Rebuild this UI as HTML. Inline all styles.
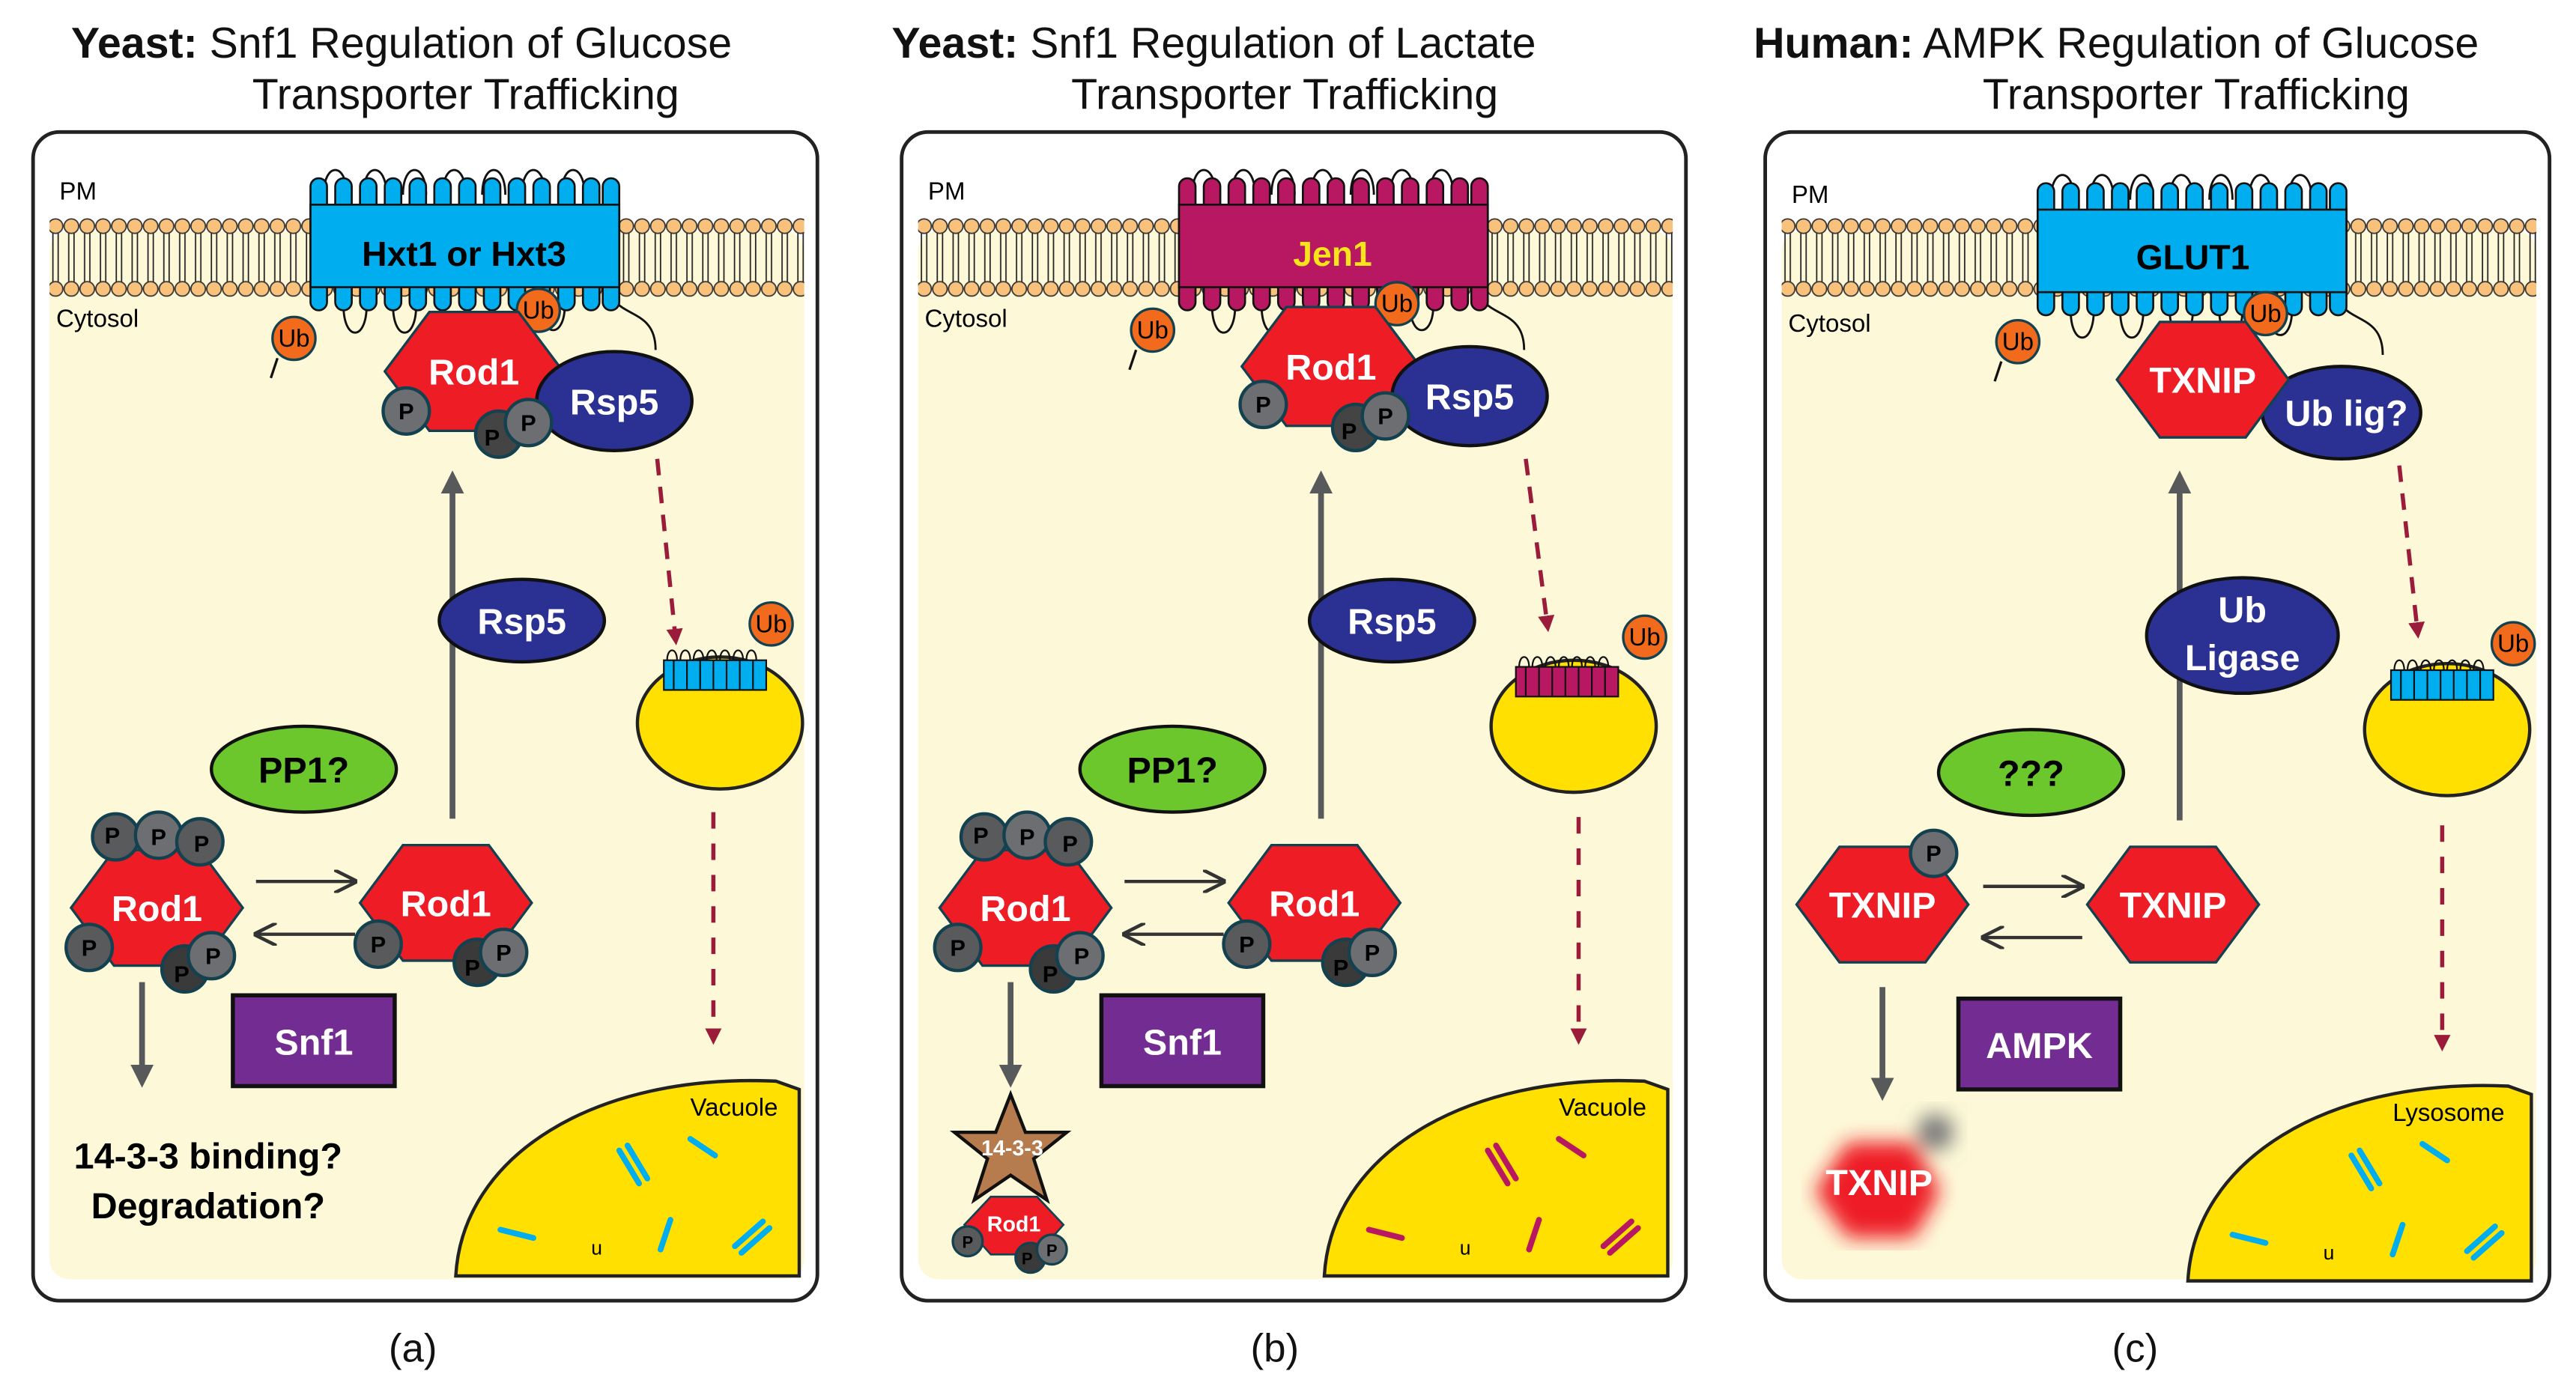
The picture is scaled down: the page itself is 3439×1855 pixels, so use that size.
<!DOCTYPE html>
<html><head><meta charset="utf-8"><style>
html,body{margin:0;padding:0;background:#fff;}
svg{display:block;}
text{font-family:"Liberation Sans",Arial,sans-serif;}
</style></head><body>
<svg width="3439" height="1855" viewBox="0 0 1560 841.5" xmlns="http://www.w3.org/2000/svg">
<defs>
<pattern id="lip" x="0" y="0" width="9.6" height="60" patternUnits="userSpaceOnUse">
 <line x1="3.2" y1="18" x2="3.2" y2="55" stroke="#222" stroke-width="0.8"/>
 <line x1="6.4" y1="18" x2="6.4" y2="55" stroke="#222" stroke-width="0.8"/>
 <circle cx="4.8" cy="17" r="4.4" fill="#f9c27c" stroke="#333" stroke-width="0.8"/>
 <circle cx="4.8" cy="55" r="4.4" fill="#f9c27c" stroke="#333" stroke-width="0.8"/>
</pattern>
<marker id="ag" viewBox="0 0 10 10" refX="5" refY="5" markerWidth="4" markerHeight="4" orient="auto"><path d="M0,0 L10,5 L0,10 z" fill="#58595b"/></marker>
<marker id="ar" viewBox="0 0 10 10" refX="5" refY="5" markerWidth="4" markerHeight="4" orient="auto"><path d="M0,0 L10,5 L0,10 z" fill="#9b1b3a"/></marker>
<marker id="ao" viewBox="0 0 10 10" refX="9" refY="5" markerWidth="7" markerHeight="7" orient="auto"><path d="M0,0 L10,5 L0,10" fill="none" stroke="#333" stroke-width="1.5"/></marker>
<filter id="blur"><feGaussianBlur stdDeviation="6"/></filter>
<g id="frame">
 <rect x="20" y="80" width="475" height="708" rx="16" fill="#fff" stroke="#222" stroke-width="2.2"/>
 <rect x="30" y="140" width="457" height="635" rx="12" fill="#fdf9d8"/>
 <rect x="30" y="120" width="457" height="60" fill="url(#lip)"/>
</g>
<g id="loops" fill="none" stroke="#111" stroke-width="1.3">
 <path d="M196,118 c0,-20 14,-20 14,0 M220,118 c0,-20 14,-20 14,0 M244,118 c0,-20 14,-20 14,0 M268,118 c0,-20 14,-20 14,0 M292,118 c0,-20 14,-20 14,0 M316,118 c0,-20 14,-20 14,0 M340,118 c0,-20 14,-20 14,0"/>
 <path d="M208,185 c0,22 14,22 14,0 M238,185 c0,22 14,22 14,0 M268,185 c0,20 14,20 14,0 M298,185 c0,20 14,20 14,0 M328,185 c0,20 14,20 14,0"/>
 <path d="M372,182 c8,10 25,8 25,30"/>
</g>
<g id="tpbumps">
 <rect x="188" y="108" width="10" height="80" rx="5"/><rect x="203" y="108" width="10" height="80" rx="5"/><rect x="218" y="108" width="10" height="80" rx="5"/><rect x="233" y="108" width="10" height="80" rx="5"/><rect x="248" y="108" width="10" height="80" rx="5"/><rect x="263" y="108" width="10" height="80" rx="5"/><rect x="278" y="108" width="10" height="80" rx="5"/><rect x="293" y="108" width="10" height="80" rx="5"/><rect x="308" y="108" width="10" height="80" rx="5"/><rect x="323" y="108" width="10" height="80" rx="5"/><rect x="338" y="108" width="10" height="80" rx="5"/><rect x="353" y="108" width="10" height="80" rx="5"/><rect x="365" y="108" width="10" height="80" rx="5"/>
 <rect x="188" y="124" width="187" height="50"/>
</g>
<g id="vacuole">
 <path d="M276,773 C280,700 360,650 470,655 L484,660 L484,773 Z" fill="#ffe000" stroke="#222" stroke-width="2"/>
</g>
<g id="rods" stroke-width="3.5" stroke-linecap="round" fill="none">
 <path d="M375,697 l12,20 M380,694 l12,20"/>
 <path d="M418,690 l15,10"/>
 <path d="M303,745 l20,5"/>
 <path d="M400,757 l6,-18"/>
 <path d="M445,755 l17,-15 M449,759 l17,-15"/>
</g>
</defs>

<!-- titles -->
<g font-size="26" fill="#111">
<text x="43" y="35"><tspan font-weight="bold">Yeast:</tspan> Snf1 Regulation of Glucose</text>
<text x="282" y="66" text-anchor="middle">Transporter Trafficking</text>
<text x="540" y="35"><tspan font-weight="bold">Yeast:</tspan> Snf1 Regulation of Lactate</text>
<text x="778" y="66" text-anchor="middle">Transporter Trafficking</text>
<text x="1062" y="35"><tspan font-weight="bold">Human:</tspan> AMPK Regulation of Glucose</text>
<text x="1330" y="66" text-anchor="middle">Transporter Trafficking</text>
<text x="250" y="825" text-anchor="middle" font-size="24">(a)</text>
<text x="772" y="825" text-anchor="middle" font-size="24">(b)</text>
<text x="1293" y="825" text-anchor="middle" font-size="24">(c)</text>
</g>

<!-- ============ PANEL A ============ -->
<g>
 <use href="#frame"/>
 <text x="36" y="121" font-size="15">PM</text>
 <text x="34" y="198" font-size="15">Cytosol</text>
 <use href="#loops"/>
 <g fill="#00aeef" stroke="#111" stroke-width="1.2"><use href="#tpbumps"/></g>
 <rect x="190" y="126" width="183" height="46" fill="#00aeef"/>
 <text x="281" y="161" font-size="21" font-weight="bold" text-anchor="middle">Hxt1 or Hxt3</text>
 <path d="M168,217 l-4,12" stroke="#111" stroke-width="1.5"/>
 <circle cx="178" cy="205" r="13" fill="#f26b1d" stroke="#14414f" stroke-width="1.5"/><text x="178" y="210" font-size="15" text-anchor="middle">Ub</text>
 <circle cx="326" cy="188" r="13" fill="#f26b1d" stroke="#14414f" stroke-width="1.5"/><text x="326" y="193" font-size="15" text-anchor="middle">Ub</text>
 <polygon points="233,225 260,189 314,189 341,225 314,261 260,261" fill="#ee1c25" stroke="#14414f" stroke-width="1.5"/>
 <text x="287" y="233" font-size="22" font-weight="bold" fill="#fff" text-anchor="middle">Rod1</text>
 <ellipse cx="372" cy="243" rx="47" ry="30" fill="#2b3192" stroke="#111" stroke-width="2"/>
 <text x="372" y="251" font-size="22" font-weight="bold" fill="#fff" text-anchor="middle">Rsp5</text>
 <g fill="#6d6e71" stroke="#14414f" stroke-width="2"><circle cx="246" cy="249" r="14"/><circle cx="302" cy="263" r="14" fill="#444"/><circle cx="320" cy="256" r="14"/></g>
 <g font-size="14" font-weight="bold" text-anchor="middle"><text x="246" y="254">P</text><text x="298" y="270">P</text><text x="320" y="261">P</text></g>
 <line x1="274" y1="496" x2="274" y2="292" stroke="#58595b" stroke-width="3.5" marker-end="url(#ag)"/>
 <ellipse cx="316" cy="376" rx="50" ry="25" fill="#2b3192" stroke="#111" stroke-width="2"/>
 <text x="316" y="384" font-size="22" font-weight="bold" fill="#fff" text-anchor="middle">Rsp5</text>
 <ellipse cx="184" cy="466" rx="56" ry="26" fill="#6cc72c" stroke="#111" stroke-width="2"/>
 <text x="184" y="474" font-size="22" font-weight="bold" text-anchor="middle">PP1?</text>
 <polygon points="43,550 69,515 121,515 147,550 121,585 69,585" fill="#ee1c25" stroke="#14414f" stroke-width="1.5"/>
 <text x="95" y="558" font-size="22" font-weight="bold" fill="#fff" text-anchor="middle">Rod1</text>
 <g fill="#595a5c" stroke="#14414f" stroke-width="2"><circle cx="70" cy="507" r="14"/><circle cx="96" cy="506" r="14" fill="#6d6e71"/><circle cx="121" cy="510" r="14"/><circle cx="54" cy="574" r="14"/><circle cx="112" cy="587" r="14" fill="#3a3a3a"/><circle cx="128" cy="579" r="14" fill="#6d6e71"/></g>
 <g font-size="14" font-weight="bold" text-anchor="middle"><text x="68" y="511">P</text><text x="96" y="512">P</text><text x="122" y="516">P</text><text x="54" y="579">P</text><text x="110" y="595">P</text><text x="129" y="584">P</text></g>
 <polygon points="218,547 244,512 296,512 322,547 296,582 244,582" fill="#ee1c25" stroke="#14414f" stroke-width="1.5"/>
 <text x="270" y="555" font-size="22" font-weight="bold" fill="#fff" text-anchor="middle">Rod1</text>
 <g fill="#595a5c" stroke="#14414f" stroke-width="2"><circle cx="229" cy="572" r="14"/><circle cx="289" cy="583" r="14" fill="#3a3a3a"/><circle cx="305" cy="577" r="14" fill="#6d6e71"/></g>
 <g font-size="14" font-weight="bold" text-anchor="middle"><text x="229" y="577">P</text><text x="286" y="591">P</text><text x="305" y="582">P</text></g>
 <line x1="155" y1="534" x2="215" y2="534" stroke="#333" stroke-width="2" marker-end="url(#ao)"/>
 <line x1="215" y1="566" x2="155" y2="566" stroke="#333" stroke-width="2" marker-end="url(#ao)"/>
 <rect x="141" y="603" width="98" height="55" fill="#732c91" stroke="#111" stroke-width="2.5"/>
 <text x="190" y="639" font-size="22" font-weight="bold" fill="#fff" text-anchor="middle">Snf1</text>
 <line x1="86" y1="595" x2="86" y2="652" stroke="#58595b" stroke-width="3.5" marker-end="url(#ag)"/>
 <text x="126" y="708" font-size="22" font-weight="bold" text-anchor="middle">14-3-3 binding?</text>
 <text x="126" y="738" font-size="22" font-weight="bold" text-anchor="middle">Degradation?</text>
 <line x1="398" y1="278" x2="409" y2="386" stroke="#9b1b3a" stroke-width="2.5" stroke-dasharray="10,7" marker-end="url(#ar)"/>
 <ellipse cx="436" cy="438" rx="50" ry="40" fill="#ffe000" stroke="#222" stroke-width="2"/>
 <path d="M404,400 c0,-8 6,-8 6,0 M412,400 c0,-8 6,-8 6,0 M420,400 c0,-8 6,-8 6,0 M428,400 c0,-8 6,-8 6,0 M436,400 c0,-8 6,-8 6,0 M444,400 c0,-8 6,-8 6,0 M452,400 c0,-8 6,-8 6,0" fill="none" stroke="#111"/>
 <rect x="402" y="400" width="62" height="18" fill="#00aeef" stroke="#111" stroke-width="1"/>
 <path d="M408,400 v18 M416,400 v18 M424,400 v18 M432,400 v18 M440,400 v18 M448,400 v18 M456,400 v18" stroke="#111"/>
 <circle cx="467" cy="378" r="13" fill="#f26b1d" stroke="#14414f" stroke-width="1.5"/><text x="467" y="383" font-size="15" text-anchor="middle">Ub</text>
 <line x1="432" y1="492" x2="432" y2="628" stroke="#9b1b3a" stroke-width="2.5" stroke-dasharray="10,9" marker-end="url(#ar)"/>
 <use href="#vacuole"/>
 <text x="418" y="676" font-size="15">Vacuole</text>
 <g stroke="#00aeef"><use href="#rods"/></g>
 <text x="358" y="760" font-size="12">u</text>
</g>

<!-- ============ PANEL B ============ -->
<g transform="translate(526,0)">
 <use href="#frame"/>
 <text x="36" y="121" font-size="15">PM</text>
 <text x="34" y="198" font-size="15">Cytosol</text>
 <use href="#loops"/>
 <g fill="#b81862" stroke="#111" stroke-width="1.2"><use href="#tpbumps"/></g>
 <rect x="190" y="126" width="183" height="46" fill="#b81862"/>
 <text x="281" y="161" font-size="21" font-weight="bold" fill="#f7e41a" text-anchor="middle">Jen1</text>
 <path d="M162,212 l-4,12" stroke="#111" stroke-width="1.5"/>
 <circle cx="172" cy="200" r="13" fill="#f26b1d" stroke="#14414f" stroke-width="1.5"/><text x="172" y="205" font-size="15" text-anchor="middle">Ub</text>
 <circle cx="320" cy="184" r="13" fill="#f26b1d" stroke="#14414f" stroke-width="1.5"/><text x="320" y="189" font-size="15" text-anchor="middle">Ub</text>
 <polygon points="226,222 253,186 307,186 334,222 307,258 253,258" fill="#ee1c25" stroke="#14414f" stroke-width="1.5"/>
 <text x="280" y="230" font-size="22" font-weight="bold" fill="#fff" text-anchor="middle">Rod1</text>
 <ellipse cx="364" cy="240" rx="47" ry="30" fill="#2b3192" stroke="#111" stroke-width="2"/>
 <text x="364" y="248" font-size="22" font-weight="bold" fill="#fff" text-anchor="middle">Rsp5</text>
 <g fill="#6d6e71" stroke="#14414f" stroke-width="2"><circle cx="239" cy="245" r="14"/><circle cx="295" cy="259" r="14" fill="#444"/><circle cx="313" cy="252" r="14"/></g>
 <g font-size="14" font-weight="bold" text-anchor="middle"><text x="239" y="250">P</text><text x="291" y="266">P</text><text x="313" y="257">P</text></g>
 <line x1="274" y1="496" x2="274" y2="292" stroke="#58595b" stroke-width="3.5" marker-end="url(#ag)"/>
 <ellipse cx="317" cy="376" rx="50" ry="25" fill="#2b3192" stroke="#111" stroke-width="2"/>
 <text x="317" y="384" font-size="22" font-weight="bold" fill="#fff" text-anchor="middle">Rsp5</text>
 <ellipse cx="184" cy="466" rx="56" ry="26" fill="#6cc72c" stroke="#111" stroke-width="2"/>
 <text x="184" y="474" font-size="22" font-weight="bold" text-anchor="middle">PP1?</text>
 <polygon points="43,550 69,515 121,515 147,550 121,585 69,585" fill="#ee1c25" stroke="#14414f" stroke-width="1.5"/>
 <text x="95" y="558" font-size="22" font-weight="bold" fill="#fff" text-anchor="middle">Rod1</text>
 <g fill="#595a5c" stroke="#14414f" stroke-width="2"><circle cx="70" cy="507" r="14"/><circle cx="96" cy="506" r="14" fill="#6d6e71"/><circle cx="121" cy="510" r="14"/><circle cx="54" cy="574" r="14"/><circle cx="112" cy="587" r="14" fill="#3a3a3a"/><circle cx="128" cy="579" r="14" fill="#6d6e71"/></g>
 <g font-size="14" font-weight="bold" text-anchor="middle"><text x="68" y="511">P</text><text x="96" y="512">P</text><text x="122" y="516">P</text><text x="54" y="579">P</text><text x="110" y="595">P</text><text x="129" y="584">P</text></g>
 <polygon points="218,547 244,512 296,512 322,547 296,582 244,582" fill="#ee1c25" stroke="#14414f" stroke-width="1.5"/>
 <text x="270" y="555" font-size="22" font-weight="bold" fill="#fff" text-anchor="middle">Rod1</text>
 <g fill="#595a5c" stroke="#14414f" stroke-width="2"><circle cx="229" cy="572" r="14"/><circle cx="289" cy="583" r="14" fill="#3a3a3a"/><circle cx="305" cy="577" r="14" fill="#6d6e71"/></g>
 <g font-size="14" font-weight="bold" text-anchor="middle"><text x="229" y="577">P</text><text x="286" y="591">P</text><text x="305" y="582">P</text></g>
 <line x1="155" y1="534" x2="215" y2="534" stroke="#333" stroke-width="2" marker-end="url(#ao)"/>
 <line x1="215" y1="566" x2="155" y2="566" stroke="#333" stroke-width="2" marker-end="url(#ao)"/>
 <rect x="141" y="603" width="98" height="55" fill="#732c91" stroke="#111" stroke-width="2.5"/>
 <text x="190" y="639" font-size="22" font-weight="bold" fill="#fff" text-anchor="middle">Snf1</text>
 <line x1="86" y1="595" x2="86" y2="652" stroke="#58595b" stroke-width="3.5" marker-end="url(#ag)"/>
 <polygon points="58,742 74,725 102,725 118,742 102,760 74,760" fill="#ee1c25" stroke="#14414f" stroke-width="1.2"/>
 <text x="88" y="746" font-size="13" font-weight="bold" fill="#fff" text-anchor="middle">Rod1</text>
 <g fill="#595a5c" stroke="#14414f" stroke-width="1.5"><circle cx="60" cy="752" r="9"/><circle cx="98" cy="762" r="9" fill="#3a3a3a"/><circle cx="111" cy="757" r="9" fill="#6d6e71"/></g>
 <g font-size="10" font-weight="bold" text-anchor="middle"><text x="60" y="756">P</text><text x="96" y="766">P</text><text x="111" y="761">P</text></g>
 <polygon points="86,663 95,686 120,686 100,702 108,727 86,712 64,727 72,702 52,686 77,686" fill="#b77c4d" stroke="#111" stroke-width="2"/>
 <text x="87" y="700" font-size="13" font-weight="bold" fill="#fff" text-anchor="middle">14-3-3</text>
 <line x1="398" y1="278" x2="411" y2="378" stroke="#9b1b3a" stroke-width="2.5" stroke-dasharray="10,7" marker-end="url(#ar)"/>
 <ellipse cx="427" cy="440" rx="50" ry="40" fill="#ffe000" stroke="#222" stroke-width="2"/>
 <path d="M394,404 c0,-8 6,-8 6,0 M402,404 c0,-8 6,-8 6,0 M410,404 c0,-8 6,-8 6,0 M418,404 c0,-8 6,-8 6,0 M426,404 c0,-8 6,-8 6,0 M434,404 c0,-8 6,-8 6,0 M442,404 c0,-8 6,-8 6,0" fill="none" stroke="#111"/>
 <rect x="392" y="404" width="62" height="18" fill="#b81862" stroke="#111" stroke-width="1"/>
 <path d="M398,404 v18 M406,404 v18 M414,404 v18 M422,404 v18 M430,404 v18 M438,404 v18 M446,404 v18" stroke="#111"/>
 <circle cx="470" cy="386" r="13" fill="#f26b1d" stroke="#14414f" stroke-width="1.5"/><text x="470" y="391" font-size="15" text-anchor="middle">Ub</text>
 <line x1="430" y1="495" x2="430" y2="628" stroke="#9b1b3a" stroke-width="2.5" stroke-dasharray="10,9" marker-end="url(#ar)"/>
 <use href="#vacuole"/>
 <text x="418" y="676" font-size="15">Vacuole</text>
 <g stroke="#b81862"><use href="#rods"/></g>
 <text x="358" y="760" font-size="12">u</text>
</g>

<!-- ============ PANEL C ============ -->
<g transform="translate(1049,0)">
 <use href="#frame"/>
 <text x="36" y="123" font-size="15">PM</text>
 <text x="34" y="201" font-size="15">Cytosol</text>
 <g transform="translate(-3,3)">
 <use href="#loops"/>
 <g fill="#00aeef" stroke="#111" stroke-width="1.2"><use href="#tpbumps"/></g>
 <rect x="190" y="126" width="183" height="46" fill="#00aeef"/>
 </g>
 <text x="279" y="163" font-size="21" font-weight="bold" text-anchor="middle">GLUT1</text>
 <path d="M163,219 l-4,12" stroke="#111" stroke-width="1.5"/>
 <circle cx="173" cy="207" r="13" fill="#f26b1d" stroke="#14414f" stroke-width="1.5"/><text x="173" y="212" font-size="15" text-anchor="middle">Ub</text>
 <circle cx="323" cy="190" r="13" fill="#f26b1d" stroke="#14414f" stroke-width="1.5"/><text x="323" y="195" font-size="15" text-anchor="middle">Ub</text>
 <ellipse cx="369" cy="250" rx="48" ry="28" fill="#2b3192" stroke="#111" stroke-width="2"/>
 <text x="372" y="258" font-size="22" font-weight="bold" fill="#fff" text-anchor="middle">Ub lig?</text>
 <polygon points="233,230 259,195 311,195 337,230 311,265 259,265" fill="#ee1c25" stroke="#14414f" stroke-width="1.5"/>
 <text x="285" y="238" font-size="22" font-weight="bold" fill="#fff" text-anchor="middle">TXNIP</text>
 <line x1="271" y1="497" x2="271" y2="292" stroke="#58595b" stroke-width="3.5" marker-end="url(#ag)"/>
 <ellipse cx="309" cy="385" rx="58" ry="35" fill="#2b3192" stroke="#111" stroke-width="2"/>
 <text x="309" y="377" font-size="22" font-weight="bold" fill="#fff" text-anchor="middle">Ub</text>
 <text x="309" y="406" font-size="22" font-weight="bold" fill="#fff" text-anchor="middle">Ligase</text>
 <ellipse cx="181" cy="468" rx="56" ry="26" fill="#6cc72c" stroke="#111" stroke-width="2"/>
 <text x="181" y="476" font-size="22" font-weight="bold" text-anchor="middle">???</text>
 <polygon points="39,548 65,513 117,513 143,548 117,583 65,583" fill="#ee1c25" stroke="#14414f" stroke-width="1.5"/>
 <text x="91" y="556" font-size="22" font-weight="bold" fill="#fff" text-anchor="middle">TXNIP</text>
 <circle cx="122" cy="517" r="14" fill="#6d6e71" stroke="#14414f" stroke-width="2"/><text x="122" y="522" font-size="14" font-weight="bold" text-anchor="middle">P</text>
 <polygon points="215,548 241,513 293,513 319,548 293,583 241,583" fill="#ee1c25" stroke="#14414f" stroke-width="1.5"/>
 <text x="267" y="556" font-size="22" font-weight="bold" fill="#fff" text-anchor="middle">TXNIP</text>
 <line x1="152" y1="537" x2="212" y2="537" stroke="#333" stroke-width="2" marker-end="url(#ao)"/>
 <line x1="212" y1="568" x2="152" y2="568" stroke="#333" stroke-width="2" marker-end="url(#ao)"/>
 <rect x="137" y="605" width="98" height="55" fill="#732c91" stroke="#111" stroke-width="2.5"/>
 <text x="186" y="641" font-size="22" font-weight="bold" fill="#fff" text-anchor="middle">AMPK</text>
 <line x1="91" y1="598" x2="91" y2="660" stroke="#58595b" stroke-width="3.5" marker-end="url(#ag)"/>
 <g filter="url(#blur)"><polygon points="50,722 70,692 110,692 126,722 110,750 70,750" fill="#ee1c25"/><circle cx="123" cy="686" r="11" fill="#777"/></g>
 <text x="89" y="724" font-size="22" font-weight="bold" fill="#fff" text-anchor="middle">TXNIP</text>
 <line x1="404" y1="282" x2="415" y2="382" stroke="#9b1b3a" stroke-width="2.5" stroke-dasharray="10,7" marker-end="url(#ar)"/>
 <ellipse cx="433" cy="442" rx="50" ry="40" fill="#ffe000" stroke="#222" stroke-width="2"/>
 <path d="M401,406 c0,-8 6,-8 6,0 M409,406 c0,-8 6,-8 6,0 M417,406 c0,-8 6,-8 6,0 M425,406 c0,-8 6,-8 6,0 M433,406 c0,-8 6,-8 6,0 M441,406 c0,-8 6,-8 6,0 M449,406 c0,-8 6,-8 6,0" fill="none" stroke="#111"/>
 <rect x="399" y="406" width="62" height="18" fill="#00aeef" stroke="#111" stroke-width="1"/>
 <path d="M405,406 v18 M413,406 v18 M421,406 v18 M429,406 v18 M437,406 v18 M445,406 v18 M453,406 v18" stroke="#111"/>
 <circle cx="473" cy="390" r="13" fill="#f26b1d" stroke="#14414f" stroke-width="1.5"/><text x="473" y="395" font-size="15" text-anchor="middle">Ub</text>
 <line x1="430" y1="500" x2="430" y2="632" stroke="#9b1b3a" stroke-width="2.5" stroke-dasharray="10,9" marker-end="url(#ar)"/>
 <g transform="translate(0,3)"><use href="#vacuole"/><g stroke="#00aeef"><use href="#rods"/></g></g>
 <text x="400" y="679" font-size="15">Lysosome</text>
 <text x="358" y="763" font-size="12">u</text>
</g>
</svg>
</body></html>
